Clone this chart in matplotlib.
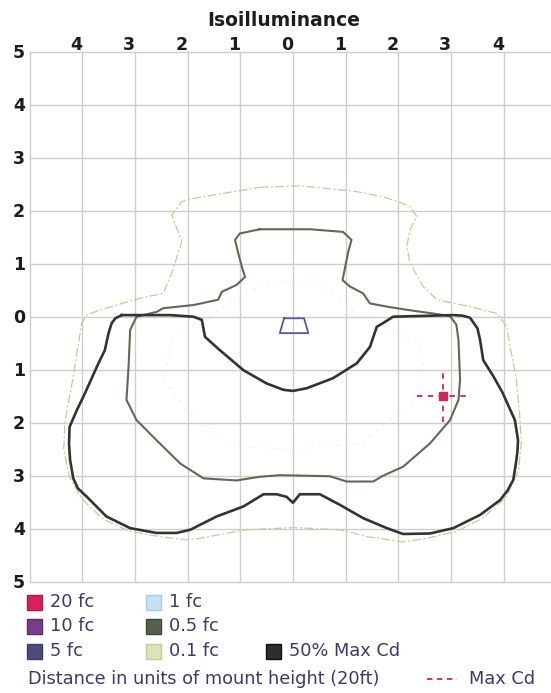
#!/usr/bin/env python3
"""
Isoilluminance plot: footcandle contours in units of mount height.
"""

import matplotlib
matplotlib.use("Agg")
import matplotlib.pyplot as plt
from matplotlib.patches import Rectangle
from matplotlib.transforms import ScaledTranslation, blended_transform_factory

# Axis ticks (mount heights)
x_ticks = [-4, -3, -2, -1, 0, 1, 2, 3, 4]
y_ticks = [5, 4, 3, 2, 1, 0, -1, -2, -3, -4, -5]
grid_vals = [-5, -4, -3, -2, -1, 0, 1, 2, 3, 4, 5]

# 50% Max Cd contour
cd50_x = [-3.25, -2.90, -2.33, -1.89, -1.73, -1.67, -1.39, -0.94, -0.50, -0.18, 0.00, 0.26, 0.76,
          1.21, 1.46, 1.59, 1.71, 1.90, 3.04, 3.22, 3.36, 3.50, 3.55, 3.61, 3.80, 3.98, 4.21, 4.27,
          4.26, 4.24, 4.18, 4.07, 3.93, 3.55, 3.04, 2.60, 2.09, 1.78, 1.33, 0.89, 0.51, 0.13, 0.00,
          -0.12, -0.31, -0.56, -0.94, -1.45, -1.95, -2.21, -2.59, -3.09, -3.54, -3.91, -4.08,
          -4.17, -4.23, -4.25, -4.24, -4.10, -3.95, -3.72, -3.57, -3.50, -3.44, -3.37, -3.25]
cd50_y = [0.03, 0.03, 0.03, 0.00, -0.06, -0.38, -0.63, -1.01, -1.26, -1.38, -1.40, -1.35, -1.16,
          -0.88, -0.57, -0.19, -0.12, 0.00, 0.03, 0.02, -0.02, -0.22, -0.44, -0.82, -1.12, -1.44,
          -1.95, -2.33, -2.52, -2.70, -3.08, -3.28, -3.46, -3.74, -3.99, -4.09, -4.10, -3.99, -3.80,
          -3.55, -3.35, -3.35, -3.51, -3.40, -3.35, -3.35, -3.58, -3.77, -4.02, -4.08, -4.08,
          -3.99, -3.77, -3.40, -3.24, -3.05, -2.70, -2.40, -2.08, -1.76, -1.45, -0.94, -0.63,
          -0.31, -0.12, -0.03, 0.03]

# 0.5 fc contour
fc05_x = [-0.63, 0.32, 0.95, 1.11, 1.05, 0.99, 0.94, 1.08, 1.33, 1.46, 1.84, 2.30, 2.66, 2.98,
          3.10, 3.14, 3.17, 3.14, 2.98, 2.60, 2.09, 1.71, 1.52, 1.02, 0.70, -0.25, -0.63, -1.07,
          -1.70, -2.14, -2.59, -2.97, -3.16, -3.12, -3.09, -2.97, -2.59, -2.46, -1.89, -1.42,
          -1.35, -1.07, -0.91, -0.97, -1.04, -1.10, -1.01, -0.63]
fc05_y = [1.65, 1.65, 1.60, 1.45, 1.23, 0.94, 0.69, 0.57, 0.44, 0.25, 0.18, 0.11, 0.06, 0.01,
          -0.15, -0.44, -1.19, -1.57, -1.95, -2.39, -2.83, -3.00, -3.11, -3.11, -3.01, -2.99,
          -3.02, -3.09, -3.05, -2.77, -2.33, -1.95, -1.57, -0.94, -0.25, 0.00, 0.09, 0.16, 0.22,
          0.32, 0.47, 0.60, 0.75, 0.94, 1.20, 1.45, 1.57, 1.65]

# 0.1 fc contour
fc01_x = [-0.63, 0.13, 0.64, 1.21, 1.71, 2.00, 2.22, 2.35, 2.22, 2.16, 2.22, 2.47, 2.73, 3.36,
          3.87, 4.06, 4.12, 4.24, 4.31, 4.33, 4.28, 4.05, 3.60, 3.10, 2.54, 2.09, 1.40, 0.90,
          0.00, -0.90, -1.76, -2.02, -2.52, -3.10, -3.60, -4.00, -4.25, -4.35, -4.33, -4.17,
          -4.01, -3.91, -3.66, -2.90, -2.46, -2.27, -2.11, -2.30, -2.11, -1.89, -1.13, -0.63]
fc01_y = [2.44, 2.47, 2.42, 2.36, 2.26, 2.17, 2.08, 1.89, 1.64, 1.32, 1.01, 0.57, 0.32, 0.19,
          0.06, -0.19, -0.57, -1.19, -1.95, -2.40, -2.90, -3.40, -3.80, -4.05, -4.18, -4.25,
          -4.15, -4.02, -3.98, -4.02, -4.18, -4.21, -4.15, -4.05, -3.82, -3.45, -3.00, -2.50,
          -2.01, -1.13, -0.12, 0.03, 0.13, 0.35, 0.44, 0.91, 1.42, 1.92, 2.17, 2.23, 2.36, 2.44]

# 1 fc contour (barely visible in the original)
fc1_x = [-0.50, 0.45, 1.20, 2.41, 2.50, 2.22, 1.65, 1.33, 0.00, -1.13, -1.80, -2.46, -2.30, -1.30, -0.50]
fc1_y = [0.65, 0.70, 0.05, -0.50, -1.20, -1.70, -2.08, -2.39, -2.50, -2.45, -2.00, -1.19, -0.40, 0.20, 0.65]

# 5 fc contour (small trapezoid under the fixture)
fc5_x = [-0.17, 0.21, 0.29, -0.25, -0.17]
fc5_y = [-0.03, -0.03, -0.31, -0.31, -0.03]

# Max Cd location
max_cd_x = 2.84
max_cd_y = -1.50

# Legend entries
legend_labels = ["20 fc", "10 fc", "5 fc", "1 fc", "0.5 fc", "0.1 fc", "50% Max Cd"]
legend_colors = ["#d8215a", "#7b3b8b", "#4b4b80", "#c4e2f4", "#56604f", "#dde4b4", "#2e2e2e"]
legend_edges = ["#b01a48", "#5e2c6c", "#3a3a66", "#a9cde2", "#3f473a", "#c2cc95", "#111111"]

W, H = 551, 693


def fx(px):
    return px / W


def fy(py):
    return 1 - py / H


def main():
    fig = plt.figure(figsize=(W / 100, H / 100), dpi=100)
    ax = fig.add_axes([fx(29.5), fy(581.7), (W - 29.5) / W, 530.0 / H])
    ax.set_xlim(-5, (W - 293) / 52.7)
    ax.set_ylim(-5, 5)
    ax.set_axis_off()

    # Grid
    for v in grid_vals:
        ax.axvline(v, color="#cdcdcd", lw=1.0, clip_on=False, zorder=1)
        ax.axhline(v, color="#cdcdcd", lw=1.0, clip_on=False, zorder=1)

    # Tick labels
    tick_col = "#1c1c1c"
    xt = blended_transform_factory(ax.transData, ax.transAxes)
    off_x = ScaledTranslation(-6 / 100, 2 / 100, fig.dpi_scale_trans)
    for v in x_ticks:
        ax.text(v, 1.0, str(abs(v)), transform=xt + off_x, ha="center", va="baseline",
                fontsize=12.5, fontweight="bold", color=tick_col)
    yt = blended_transform_factory(ax.transAxes, ax.transData)
    off_y = ScaledTranslation(-4.5 / 100, -6.4 / 100, fig.dpi_scale_trans)
    for v in y_ticks:
        ax.text(0.0, v, str(abs(v)), transform=yt + off_y, ha="right", va="baseline",
                fontsize=12.5, fontweight="bold", color=tick_col)

    # Contours
    ax.plot(fc01_x, fc01_y, color="#bcd190", lw=0.9, linestyle=(0, (7, 2, 1.5, 2)), zorder=2)
    ax.plot(fc1_x, fc1_y, color="#e9f0f3", lw=0.7, linestyle=(0, (3, 6)), zorder=2)
    ax.plot(fc05_x, fc05_y, color="#5e6a54", lw=1.5, solid_joinstyle="round", zorder=3)
    ax.plot(cd50_x, cd50_y, color="#333333", lw=1.9, solid_joinstyle="round", zorder=4)
    ax.plot(fc5_x, fc5_y, color="#5656a6", lw=1.3, zorder=4)

    # Max Cd marker with dashed crosshair
    ax.plot([max_cd_x - 0.48, max_cd_x + 0.48], [max_cd_y, max_cd_y], color="#d0245e",
            lw=1.3, linestyle=(0, (3, 3)), zorder=5)
    ax.plot([max_cd_x, max_cd_x], [max_cd_y - 0.48, max_cd_y + 0.48], color="#d0245e",
            lw=1.3, linestyle=(0, (3, 3)), zorder=5)
    ax.plot([max_cd_x], [max_cd_y], marker="s", markersize=5.5, color="#d0245e", zorder=6)

    # Title
    fig.text(fx(283.6), fy(26), "Isoilluminance", ha="center", va="baseline",
             fontsize=13.5, fontweight="bold", color="#1c1c1c")

    # Legend (3 columns)
    txt_col = "#3b3b6b"
    sq = 15
    col_sq = [27, 146, 266]
    col_txt = [50, 169, 289]
    row_y = [602, 626, 651]
    slots = [(0, 0), (0, 1), (0, 2), (1, 0), (1, 1), (1, 2), (2, 2)]
    for lab, c, ec, (ci, ri) in zip(legend_labels, legend_colors, legend_edges, slots):
        yc = row_y[ri]
        fig.add_artist(Rectangle((fx(col_sq[ci]), fy(yc + sq / 2)), sq / W, sq / H,
                                 transform=fig.transFigure, facecolor=c, edgecolor=ec, lw=1.0))
        fig.text(fx(col_txt[ci]), fy(yc), lab, ha="left", va="center", fontsize=12.8,
                 color=txt_col)

    fig.text(fx(28), fy(679), "Distance in units of mount height (20ft)", ha="left",
             va="center", fontsize=12.8, color=txt_col)
    fig.add_artist(plt.Line2D([fx(427), fx(457)], [fy(679), fy(679)], transform=fig.transFigure,
                              color="#d0245e", lw=1.3, linestyle=(0, (3, 2.5))))
    fig.text(fx(469), fy(679), "Max Cd", ha="left", va="center", fontsize=12.8, color=txt_col)

    fig.savefig("out.png", dpi=100, facecolor="white")


if __name__ == "__main__":
    main()
